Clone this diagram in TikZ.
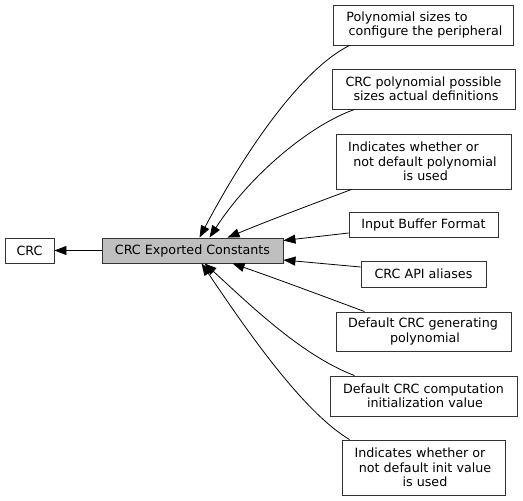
\documentclass[tikz,border=0pt]{standalone}
\usepackage{fontspec}
\setmainfont{DejaVu Sans}
\usetikzlibrary{arrows.meta}
\newcommand{\lsh}[1]{\hspace*{#1pt}}
\begin{document}
\begin{tikzpicture}[x=1pt,y=-1pt,
  box/.style={draw=black!80, line width=0.9pt, fill=white, inner sep=0pt, align=center,
    font=\fontsize{12.7}{14.5}\selectfont},
  arr/.style={draw=black, line width=0.8pt, -{Triangle[length=12pt,width=9pt]}}]
\useasboundingbox (0,0) rectangle (523,501);
\node[box, minimum width=49pt, minimum height=25pt] (crc) at (29.5,250.5) {CRC};
\node[box, fill=black!25, minimum width=181pt, minimum height=25pt] (main) at (192.5,250.5) {CRC Exported Constants};
\node[box, minimum width=180pt, minimum height=40pt] (n1) at (423,25) {Polynomial sizes to\lsh{32}\\ \lsh{5}configure the peripheral};
\node[box, minimum width=183pt, minimum height=40pt] (n2) at (423.5,89) {CRC polynomial possible\\ \lsh{5}sizes actual definitions};
\node[box, minimum width=175pt, minimum height=55pt] (n3) at (423.5,161.5) {Indicates whether or\lsh{20}\\ \lsh{3}not default polynomial\\ \lsh{4}is used};
\node[box, minimum width=149pt, minimum height=25pt] (n4) at (423.5,224.5) {Input Buffer Format};
\node[box, minimum width=125pt, minimum height=26pt] (n5) at (423.5,274) {CRC API aliases};
\node[box, minimum width=175pt, minimum height=39pt] (n6) at (423.5,331.5) {Default CRC generating\lsh{1}\\ \lsh{3}polynomial};
\node[box, minimum width=187pt, minimum height=40pt] (n7) at (423.5,396) {Default CRC computation\\ \lsh{3}initialization value};
\node[box, minimum width=163pt, minimum height=55pt] (n8) at (423.5,467.5) {Indicates whether or\lsh{7}\\ \lsh{3}not default init value\\ \lsh{3}is used};

\draw[arr] (main.west) -- (crc.east);
\draw[arr] ([xshift=17pt]n1.south west) .. controls (300,70) and (243,155) .. ([xshift=98pt]main.north west);
\draw[arr] ([xshift=23pt]n2.south west) .. controls (310,125) and (250,175) .. ([xshift=108pt]main.north west);
\draw[arr] ([xshift=16pt]n3.south west) .. controls (310,205) and (270,220) .. ([xshift=126pt]main.north west);
\draw[arr] ([yshift=-8.5pt]n4.west) -- ([yshift=10pt]main.east);
\draw[arr] ([yshift=7pt]n5.west) -- ([yshift=-9.5pt]main.east);
\draw[arr] ([xshift=29pt]n6.north west) .. controls (320,295) and (280,280) .. ([xshift=131pt]main.south west);
\draw[arr] ([xshift=25pt]n7.north west) .. controls (300,355) and (245,300) .. ([xshift=103pt]main.south west);
\draw[arr] ([xshift=8pt]n8.north west) .. controls (300,410) and (240,320) .. ([xshift=100pt]main.south west);
\end{tikzpicture}
\end{document}
